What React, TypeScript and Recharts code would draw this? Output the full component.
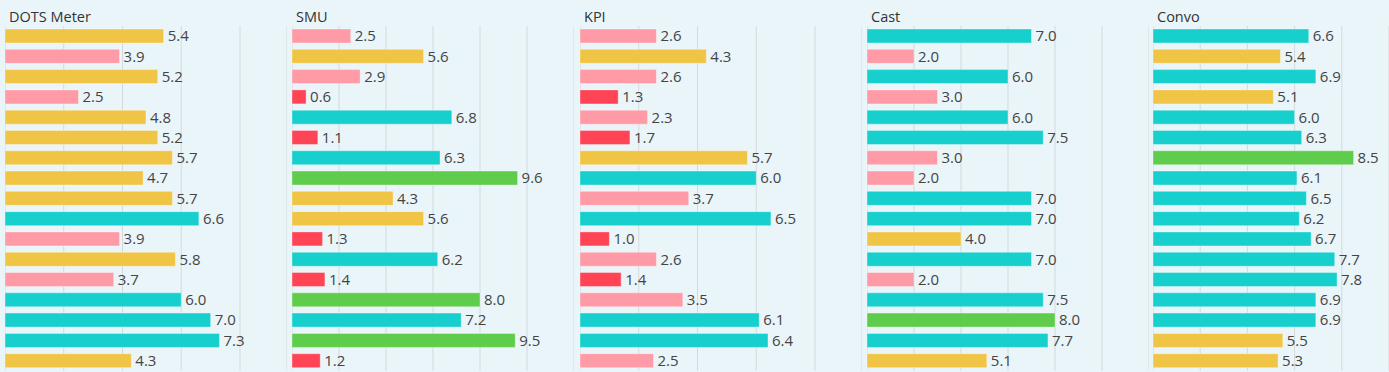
import { BarChart, Bar, XAxis, YAxis, CartesianGrid, Cell, LabelList } from "recharts";

const rows = ["r01", "r02", "r03", "r04", "r05", "r06", "r07", "r08", "r09", "r10", "r11", "r12", "r13", "r14", "r15", "r16", "r17"];

const titles = ["DOTS Meter", "SMU", "KPI", "Cast", "Convo"];

const dotsMeter = [5.4, 3.9, 5.2, 2.5, 4.8, 5.2, 5.7, 4.7, 5.7, 6.6, 3.9, 5.8, 3.7, 6.0, 7.0, 7.3, 4.3];
const smu = [2.5, 5.6, 2.9, 0.6, 6.8, 1.1, 6.3, 9.6, 4.3, 5.6, 1.3, 6.2, 1.4, 8.0, 7.2, 9.5, 1.2];
const kpi = [2.6, 4.3, 2.6, 1.3, 2.3, 1.7, 5.7, 6.0, 3.7, 6.5, 1.0, 2.6, 1.4, 3.5, 6.1, 6.4, 2.5];
const cast = [7.0, 2.0, 6.0, 3.0, 6.0, 7.5, 3.0, 2.0, 7.0, 7.0, 4.0, 7.0, 2.0, 7.5, 8.0, 7.7, 5.1];
const convo = [6.6, 5.4, 6.9, 5.1, 6.0, 6.3, 8.5, 6.1, 6.5, 6.2, 6.7, 7.7, 7.8, 6.9, 6.9, 5.5, 5.3];

const series = [dotsMeter, smu, kpi, cast, convo];
const axisMax = [9.6, 12, 9.6, 12, 10];
const gridTicks = [
  [0, 2, 4, 6, 8],
  [0, 2, 4, 6, 8, 10],
  [0, 2, 4, 6, 8],
  [0, 2, 4, 6, 8, 10],
  [0, 2, 4, 6, 8, 10],
];

const FONT = "'Open Sans', 'Noto Sans', sans-serif";

function barColor(v: number) {
  if (v < 2) return "#ff4455";
  if (v < 4) return "#ff9aa7";
  if (v < 6) return "#f0c445";
  if (v < 8) return "#17d0ce";
  return "#5fcd4b";
}

function Panel({ title, values, max, ticks, left, width }: { title: string; values: number[]; max: number; ticks: number[]; left: number; width: number }) {
  const data = rows.map((r, i) => ({ row: r, value: values[i] }));
  return (
    <div style={{ position: "absolute", left, top: 0, width, height: 372 }}>
      <div
        style={{
          position: "absolute",
          left: 4,
          top: 7,
          fontFamily: FONT,
          fontSize: 14.5,
          color: "#333",
          whiteSpace: "nowrap",
        }}
      >
        {title}
      </div>
      <BarChart
        width={width}
        height={372}
        data={data}
        layout="vertical"
        margin={{ top: 26, right: 0, bottom: 1, left: 0 }}
        barCategoryGap={3}
        style={{ overflow: "visible" }}
      >
        <CartesianGrid horizontal={false} stroke="#d5d9db" strokeWidth={1} />
        <XAxis
          type="number"
          domain={[0, max]}
          ticks={ticks}
          allowDataOverflow
          height={0}
          tick={() => <g />}
          axisLine={false}
          tickLine={false}
        />
        <YAxis type="category" dataKey="row" hide width={0} />
        <Bar dataKey="value" isAnimationActive={false} stroke="rgba(255,255,255,0.35)" strokeWidth={1}>
          {data.map((d) => (
            <Cell key={d.row} fill={barColor(d.value)} />
          ))}
          <LabelList
            dataKey="value"
            position="right"
            offset={4}
            formatter={(v: any) => Number(v).toFixed(1)}
            style={{ fontFamily: FONT, fontSize: 15, fill: "#444" }}
          />
        </Bar>
      </BarChart>
    </div>
  );
}

export default function App() {
  const lefts = [5, 292, 580, 867, 1153];
  return (
    <div
      style={{
        position: "absolute",
        left: 0,
        top: 0,
        width: 1389,
        height: 372,
        overflow: "hidden",
        background: "#eaf5fa",
      }}
    >
      {titles.map((t, i) => (
        <Panel
          key={t}
          title={t}
          values={series[i]}
          max={axisMax[i]}
          ticks={gridTicks[i]}
          left={lefts[i]}
          width={i === 4 ? 236 : 282}
        />
      ))}
    </div>
  );
}
